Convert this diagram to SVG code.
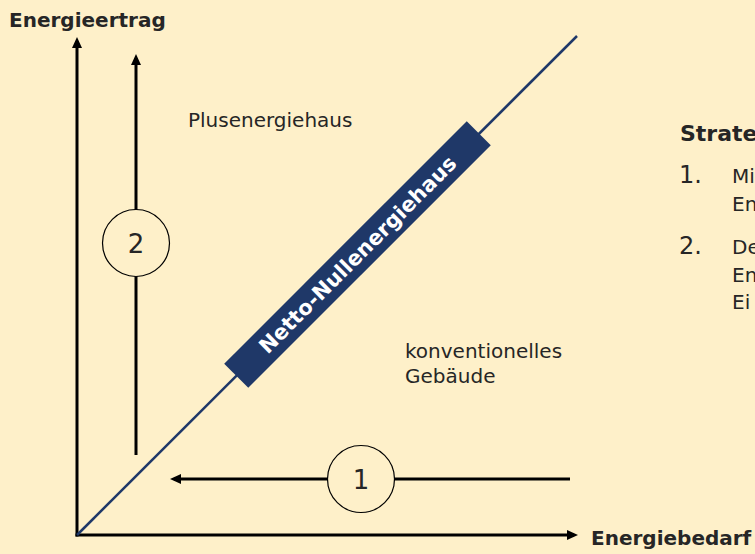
<svg xmlns="http://www.w3.org/2000/svg" width="755" height="554" viewBox="0 0 755 554">
  <style>
    text { font-family: "DejaVu Sans", Verdana, sans-serif; fill: #262626; }
    .axislbl { font-size: 20px; font-weight: bold; }
    .lbl { font-size: 20px; }
    .num { font-size: 26px; text-anchor: middle; }
    .arrow { stroke: #000; stroke-width: 3; fill: none; marker-end: url(#ah); }
    .badge { fill: #FEF0C9; stroke: #000; stroke-width: 1.2; }
  </style>
  <defs>
    <marker id="ah" markerUnits="userSpaceOnUse" markerWidth="12" markerHeight="10" refX="7" refY="5" orient="auto">
      <path d="M0,0 L11,5 L0,10 z" fill="#000"/>
    </marker>
  </defs>
  <rect x="0" y="0" width="755" height="554" fill="#FEF0C9"/>

  <g id="connectors">
    <line class="arrow" x1="77" y1="536.5" x2="77" y2="41"/>
    <line class="arrow" x1="75.5" y1="535" x2="574" y2="535"/>
    <line class="arrow" x1="136" y1="455" x2="136" y2="58"/>
    <line class="arrow" x1="570" y1="479" x2="174" y2="479"/>
    <line x1="77" y1="535" x2="577" y2="36" stroke="#1F3868" stroke-width="2.5"/>
  </g>

  <g id="axis-y-label"><text class="axislbl" x="9" y="27">Energieertrag</text></g>
  <g id="axis-x-label"><text class="axislbl" x="591" y="545">Energiebedarf</text></g>

  <g id="netto-null">
    <g transform="translate(357.5,254.5) rotate(-45)">
      <rect x="-171.5" y="-17" width="343" height="34" fill="#1F3868"/>
      <text x="0" y="7.5" text-anchor="middle" style="fill:#fff;font-size:21px;font-weight:bold">Netto-Nullenergiehaus</text>
    </g>
  </g>

  <g id="plus"><text class="lbl" x="188" y="127">Plusenergiehaus</text></g>
  <g id="konv">
    <text class="lbl" x="405" y="358">konventionelles</text>
    <text class="lbl" x="405" y="383">Gebäude</text>
  </g>

  <g id="step1">
    <circle class="badge" cx="361" cy="479" r="33.5"/>
    <text class="num" x="361" y="489">1</text>
  </g>
  <g id="step2">
    <circle class="badge" cx="136" cy="243" r="33.5"/>
    <text class="num" x="136" y="253">2</text>
  </g>

  <g id="strategie">
    <text x="680" y="141" style="font-size:22px;font-weight:bold">Strate</text>
    <text x="679" y="183" style="font-size:24px">1.</text>
    <text class="lbl" x="732" y="183">Mi</text>
    <text class="lbl" x="732" y="211">En</text>
    <text x="679" y="254" style="font-size:24px">2.</text>
    <text class="lbl" x="732" y="254">De</text>
    <text class="lbl" x="732" y="282">En</text>
    <text class="lbl" x="732" y="309">Ei</text>
  </g>
</svg>
